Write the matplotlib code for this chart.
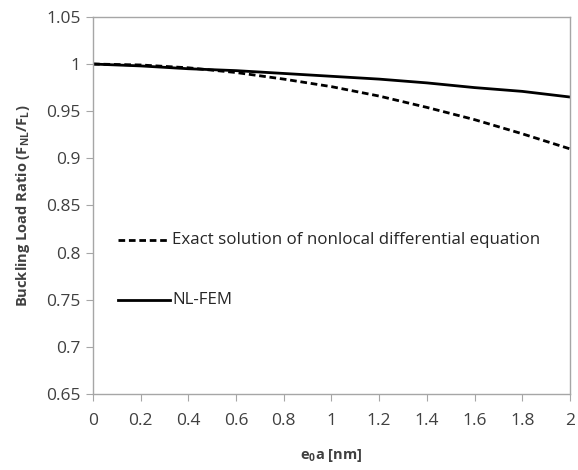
import numpy as np
from matplotlib import pyplot as plt

# data
e0a = [0, 0.2, 0.4, 0.6, 0.8, 1.0, 1.2, 1.4, 1.6, 1.8, 2.0]
exact = [1.0, 0.999, 0.996, 0.991, 0.984, 0.976, 0.966, 0.954, 0.941, 0.926, 0.910]
nlfem = [1.0, 0.998, 0.995, 0.993, 0.990, 0.987, 0.984, 0.980, 0.975, 0.971, 0.965]

legend_x = [0.105, 0.323]
legend_y_exact = 0.813
legend_y_fem = 0.75

plt.rcParams['font.family'] = ['Open Sans', 'DejaVu Sans']
plt.rcParams['mathtext.fontset'] = 'custom'
plt.rcParams['mathtext.rm'] = 'Open Sans'
plt.rcParams['mathtext.bf'] = 'Open Sans:bold'
plt.rcParams['mathtext.default'] = 'regular'
grey = '#a6a6a6'
txt = '#404040'
dash = (0, (2.4, 1.35))

fig = plt.figure(figsize=(5.78, 4.70), dpi=100)
ax = fig.add_axes([0.161, 0.162, 0.825, 0.802])

ax.plot(e0a, exact, 'k', linestyle=dash, linewidth=2)
ax.plot(e0a, nlfem, 'k', linewidth=2)

# in-plot legend drawn as in the original
ax.plot(legend_x, [legend_y_exact] * 2, 'k', linestyle=dash, linewidth=2)
ax.text(legend_x[1] + 0.01, legend_y_exact, "Exact solution of nonlocal differential equation",
        va='center', ha='left', fontsize=12.2, color='#262626')
ax.plot(legend_x, [legend_y_fem] * 2, 'k', linewidth=2)
ax.text(legend_x[1] + 0.01, legend_y_fem, "NL-FEM",
        va='center', ha='left', fontsize=12.2, color='#262626')

ax.set(xlim=(0, 2), ylim=(0.65, 1.05))
ax.set_xticks(np.arange(0, 2.01, 0.2))
ax.set_xticklabels(['0', '0.2', '0.4', '0.6', '0.8', '1', '1.2', '1.4', '1.6', '1.8', '2'])
ax.set_yticks(np.arange(0.65, 1.051, 0.05))
ax.set_yticklabels(['0.65', '0.7', '0.75', '0.8', '0.85', '0.9', '0.95', '1', '1.05'])

for s in ax.spines.values():
    s.set_color(grey)
    s.set_linewidth(1)
ax.tick_params(axis='x', direction='out', length=5, color=grey, labelsize=12.5, labelcolor=txt, pad=9)
ax.tick_params(axis='y', direction='out', length=5, color=grey, labelsize=12.5, labelcolor=txt, pad=4)

ax.set_xlabel(r"$\mathbf{e_0a}$ [nm]", fontsize=10.5, fontweight='bold', color=txt, labelpad=13)
ax.set_ylabel(r"Buckling Load Ratio ($\mathbf{F_{NL}/F_L}$)", fontsize=10.5, fontweight='bold',
              color=txt, labelpad=10)

plt.savefig("out.png", dpi=100)
